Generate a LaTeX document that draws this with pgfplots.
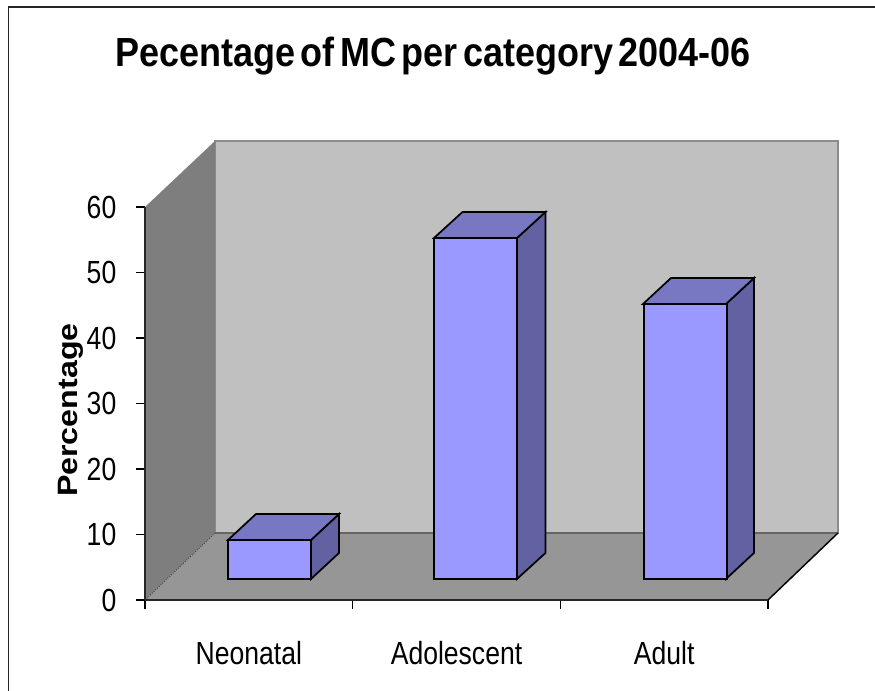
\documentclass[border=0pt]{standalone}
\usepackage{fontspec}
\usepackage{pgfplots}
\pgfplotsset{compat=1.18}
\setmainfont{Liberation Sans}
\newfontfamily\narrowface[FakeStretch=0.83]{Liberation Sans}
\newfontfamily\titleface[FakeStretch=0.885,WordSpace=0.55]{Liberation Sans}
\newfontfamily\labelface[FakeStretch=1.15]{Liberation Sans}
\definecolor{wallback}{HTML}{C0C0C0}
\definecolor{wallside}{HTML}{7E7E7E}
\definecolor{wallfloor}{HTML}{969696}
\definecolor{walledge}{HTML}{8C8C8C}
\definecolor{barfront}{HTML}{9999FF}
\definecolor{barside}{HTML}{6262A2}
\definecolor{bartop}{HTML}{7777C4}
\begin{document}
\begin{tikzpicture}
\path[use as bounding box] (0,0) rectangle (656.25pt,518.25pt);
% chart frame
\draw[line width=1.3pt,black!85] (6.375pt,0pt) -- (6.375pt,513pt) -- (656.25pt,513pt);
\node[anchor=base,font=\titleface\bfseries\fontsize{30.5}{32}\selectfont,inner sep=0pt]
  at (324.75pt,468pt) {Pecentage of MC per category 2004-06};
\begin{axis}[
  at={(108.75pt,68.25pt)}, anchor=south west,
  scale only axis, width=467.25pt, height=294.75pt,
  xmin=-0.5, xmax=2.5, ymin=0, ymax=60,
  clip=false, axis on top,
  axis lines=left,
  axis line style={-, line width=1.4pt, black!85},
  xtick={-0.5,0.5,1.5,2.5},
  xticklabels={Neonatal,Adolescent,Adult},
  x tick label as interval,
  ytick={0,10,20,30,40,50,60},
  tick style={black, line width=1.1pt},
  major tick length=6.5pt,
  tick align=outside,
  /pgf/number format/assume math mode=true,
  tick label style={font=\narrowface\fontsize{24}{24}\selectfont},
  yticklabel style={xshift=-11.5pt},
  xticklabel style={yshift=-21pt},
  ylabel={Percentage},
  ylabel style={font=\labelface\bfseries\fontsize{21}{21}\selectfont,
    at={(axis description cs:-0.119,0.483)}, anchor=center},
]
% back wall, left wall and floor of the box
\addplot[fill=wallback, draw=walledge, line width=1.2pt]
  coordinates {(-0.1629,10.23) (-0.1629,70.08) (2.837,70.08) (2.837,10.23)} -- cycle;
\addplot[fill=wallside, draw=none]
  coordinates {(-0.5,0) (-0.5,60) (-0.1629,70.08) (-0.1629,10.23)} -- cycle;
\addplot[fill=wallfloor, draw=none]
  coordinates {(-0.5,0) (-0.1629,10.23) (2.837,10.23) (2.5,0)} -- cycle;
\addplot[draw=black!70, line width=0.8pt, densely dotted]
  coordinates {(-0.5,0) (-0.1629,10.23)};
\addplot[draw=black!60, line width=0.8pt]
  coordinates {(-0.1629,10.23) (2.837,10.23)};
\addplot[draw=black, line width=1.1pt]
  coordinates {(2.5,0) (2.837,10.23)};
% side and top faces of the bars
\addplot[fill=barside, draw=black, line width=1.3pt]
  coordinates {(0.2993,3.21) (0.2993,9.16) (0.4342,13.13) (0.4342,7.18)} -- cycle;
\addplot[fill=bartop, draw=black, line width=1.3pt]
  coordinates {(-0.1003,9.16) (0.0345,13.13) (0.4342,13.13) (0.2993,9.16)} -- cycle;
\addplot[fill=barside, draw=black, line width=1.3pt]
  coordinates {(1.2913,3.21) (1.2913,55.27) (1.4285,59.24) (1.4285,7.18)} -- cycle;
\addplot[fill=bartop, draw=black, line width=1.3pt]
  coordinates {(0.8916,55.27) (1.0289,59.24) (1.4285,59.24) (1.2913,55.27)} -- cycle;
\addplot[fill=barside, draw=black, line width=1.3pt]
  coordinates {(2.2977,3.21) (2.2977,45.19) (2.4325,49.16) (2.4325,7.18)} -- cycle;
\addplot[fill=bartop, draw=black, line width=1.3pt]
  coordinates {(1.898,45.19) (2.0329,49.16) (2.4325,49.16) (2.2977,45.19)} -- cycle;
% front faces: the percentages, standing at mid depth of the floor
\addplot[ybar, bar width=62.25pt, bar shift=15.75pt, yshift=15.75pt,
  fill=barfront, draw=black, line width=1.3pt]
  coordinates {(0,6) (0.99,52) (2,42)};
\end{axis}
\end{tikzpicture}
\end{document}
